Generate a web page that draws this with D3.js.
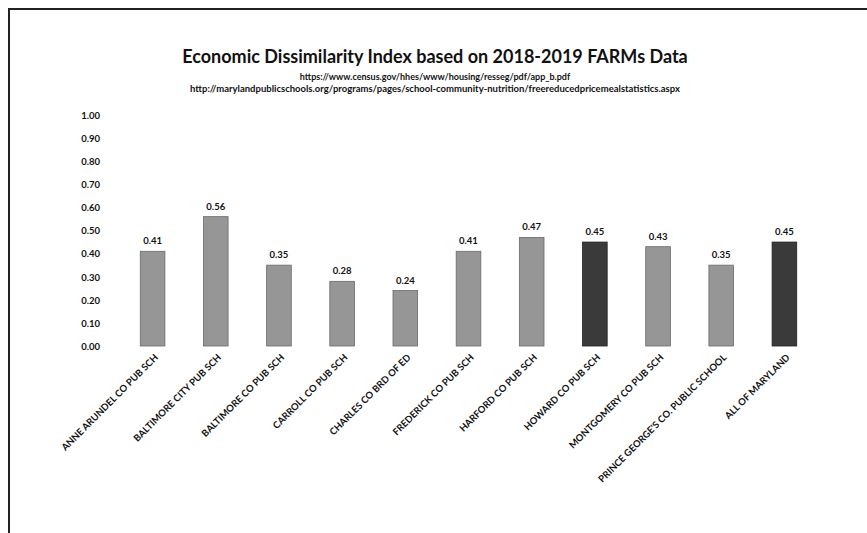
<!DOCTYPE html>
<html>
<head>
<meta charset="utf-8">
<script src="https://cdn.jsdelivr.net/npm/d3@7"></script>
<style>
  html, body { margin: 0; padding: 0; background: #fff; }
  svg { display: block; }
  text { font-family: Lato, "Open Sans", "DejaVu Sans", sans-serif; font-weight: 700; fill: #111; }
</style>
</head>
<body>
<svg id="chart" width="867" height="533"></svg>
<script>
const categories = [
  "ANNE ARUNDEL CO PUB SCH",
  "BALTIMORE CITY PUB SCH",
  "BALTIMORE CO PUB SCH",
  "CARROLL CO PUB SCH",
  "CHARLES CO BRD OF ED",
  "FREDERICK CO PUB SCH",
  "HARFORD CO PUB SCH",
  "HOWARD CO PUB SCH",
  "MONTGOMERY CO PUB SCH",
  "PRINCE GEORGE'S CO. PUBLIC SCHOOL",
  "ALL OF MARYLAND"
];
const values = [0.41, 0.56, 0.35, 0.28, 0.24, 0.41, 0.47, 0.45, 0.43, 0.35, 0.45];
const highlighted = ["HOWARD CO PUB SCH", "ALL OF MARYLAND"];
const yTicks = [0, 0.1, 0.2, 0.3, 0.4, 0.5, 0.6, 0.7, 0.8, 0.9, 1.0];
const title = "Economic Dissimilarity Index based on 2018-2019 FARMs Data";
const sources = [
  "https://www.census.gov/hhes/www/housing/resseg/pdf/app_b.pdf",
  "http://marylandpublicschools.org/programs/pages/school-community-nutrition/freereducedpricemealstatistics.aspx"
];

const svg = d3.select("#chart");

// frame
svg.append("path")
  .attr("d", "M9,533 L9,9 L867,9")
  .attr("fill", "none")
  .attr("stroke", "#222")
  .attr("stroke-width", 2);

const x = d3.scaleBand().domain(categories).range([121, 816]).paddingInner(0.61).paddingOuter(0.305);
const y = d3.scaleLinear().domain([0, 1]).range([346, 115]);

// title
svg.append("text")
  .attr("x", 435).attr("y", 63)
  .attr("text-anchor", "middle")
  .style("font-size", "18px")
  .text(title);

svg.selectAll("text.src").data(sources).join("text")
  .attr("class", "src")
  .attr("x", 435)
  .attr("y", (d, i) => 80 + i * 12)
  .attr("text-anchor", "middle")
  .style("font-size", (d, i) => i === 0 ? "9px" : "9.5px")
  .text(d => d);

// y axis
const yAxis = d3.axisLeft(y).tickValues(yTicks).tickFormat(d3.format(".2f")).tickSize(0).tickPadding(0);
const ga = svg.append("g").attr("transform", "translate(100,0)").call(yAxis);
ga.select(".domain").remove();
ga.selectAll("text").style("font-size", "9.5px").attr("fill", "#111").attr("dy", "0.35em");

// bars
svg.selectAll("rect.bar").data(categories).join("rect")
  .attr("class", "bar")
  .attr("x", d => x(d))
  .attr("width", x.bandwidth())
  .attr("y", (d, i) => y(values[i]))
  .attr("height", (d, i) => y(0) - y(values[i]))
  .attr("fill", d => highlighted.includes(d) ? "#3a3a3a" : "#969696")
  .attr("stroke", d => highlighted.includes(d) ? "#222" : "#6a6a6a")
  .attr("stroke-width", 0.8);

// value labels
svg.selectAll("text.val").data(categories).join("text")
  .attr("class", "val")
  .attr("x", d => x(d) + x.bandwidth() / 2)
  .attr("y", (d, i) => y(values[i]) - 7)
  .attr("text-anchor", "middle")
  .style("font-size", "9.5px")
  .text((d, i) => values[i].toFixed(2));

// x axis labels
const xAxis = d3.axisBottom(x).tickSize(0).tickPadding(0);
const gx = svg.append("g").attr("transform", "translate(0,352)").call(xAxis);
gx.select(".domain").remove();
gx.selectAll("text")
  .style("font-size", "9.5px")
  .attr("fill", "#111")
  .attr("text-anchor", "end")
  .attr("dy", "0.3em")
  .attr("transform", "translate(4,4) rotate(-45)");
</script>
</body>
</html>
